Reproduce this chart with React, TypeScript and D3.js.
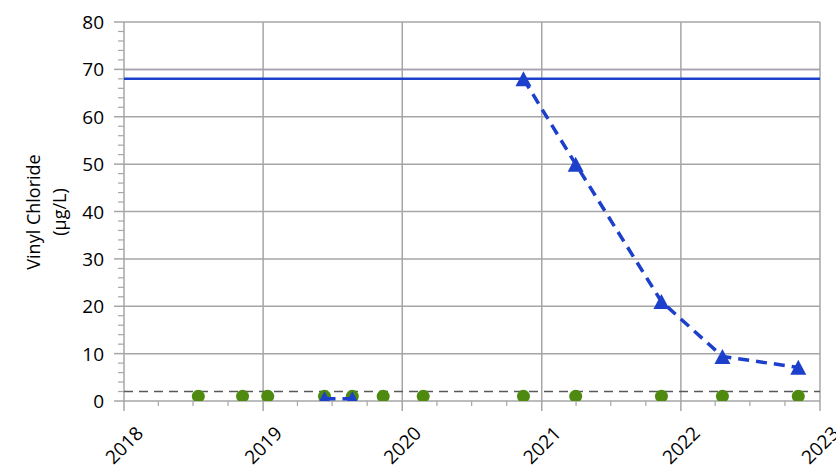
import React from "react";
import * as d3 from "d3";

const W = 836;
const H = 469;

// Data
const yTicks = [0, 10, 20, 30, 40, 50, 60, 70, 80];
const xYears = [2018, 2019, 2020, 2021, 2022, 2023];

const ndDates = [
  "2018-07-15", "2018-11-08", "2019-01-13", "2019-06-11", "2019-08-23", "2019-11-12",
  "2020-02-25", "2020-11-14", "2021-03-31", "2021-11-11", "2022-04-20", "2022-11-05",
];
const ndValues = [1, 1, 1, 1, 1, 1, 1, 1, 1, 1, 1, 1];

const vcDates = [
  "2019-06-11", "2019-08-23", "2019-11-12", "2020-02-25",
  "2020-11-14", "2021-03-31", "2021-11-11", "2022-04-20", "2022-11-05",
];
const vcValues: (number | null)[] = [0.5, 0.5, null, null, 68, 50, 21, 9.4, 7.1];

const mclValue = 68;
const refValue70 = 70;
const rlValue = 2;

export default function App() {
  const margin = { left: 124, right: 16, top: 22, bottom: 68 };
  const x = d3
    .scaleTime()
    .domain([new Date(2018, 0, 1), new Date(2023, 0, 1)])
    .range([margin.left, W - margin.right]);
  const y = d3.scaleLinear().domain([0, 80]).range([H - margin.bottom, margin.top]);

  const x0 = margin.left, x1 = W - margin.right;
  const y0 = y(0), y1 = y(80);

  const minorY = d3.range(0, 81, 2).filter((v) => v % 10 !== 0);
  const quarters = d3.timeMonth.every(3)!.range(new Date(2018, 0, 1), new Date(2023, 0, 2));
  const minorX = quarters.filter((d) => d.getMonth() !== 0);

  const vc = vcDates.map((d, i) => ({ date: new Date(d), value: vcValues[i] }));
  const nd = ndDates.map((d, i) => ({ date: new Date(d), value: ndValues[i] }));

  const line = d3
    .line<{ date: Date; value: number | null }>()
    .defined((d) => d.value != null)
    .x((d) => x(d.date))
    .y((d) => y(d.value as number));

  const grid = "#a6a6a6";
  const blue = "#1c3fcc";
  const green = "#4e8a10";
  const font = "'Open Sans', 'Liberation Sans', sans-serif";

  const tri = (cx: number, cy: number) => {
    const w = 16, h = 15;
    return `M${cx},${cy - h / 2}L${cx + w / 2},${cy + h / 2}L${cx - w / 2},${cy + h / 2}Z`;
  };

  return (
    <svg
      width={W}
      height={H}
      style={{ position: "absolute", left: 0, top: 0, background: "#fff" }}
      fontFamily={font}
    >
      <defs>
        <clipPath id="plot">
          <rect x={x0} y={y1} width={x1 - x0} height={y0 - y1} />
        </clipPath>
      </defs>
      {/* horizontal gridlines */}
      {yTicks.map((t) => (
        <line key={"gy" + t} x1={x0} x2={x1} y1={y(t)} y2={y(t)} stroke={grid} strokeWidth={1.5} />
      ))}
      {/* vertical gridlines */}
      {xYears.map((yr) => {
        const xx = x(new Date(yr, 0, 1));
        return <line key={"gx" + yr} x1={xx} x2={xx} y1={y1} y2={y0} stroke={grid} strokeWidth={1.5} />;
      })}
      {/* y axis minor ticks */}
      {minorY.map((t) => (
        <line key={"my" + t} x1={x0 - 6} x2={x0} y1={y(t)} y2={y(t)} stroke={grid} strokeWidth={1.2} />
      ))}
      {yTicks.map((t) => (
        <line key={"ty" + t} x1={x0 - 10} x2={x0} y1={y(t)} y2={y(t)} stroke={grid} strokeWidth={1.5} />
      ))}
      {/* x axis ticks */}
      {minorX.map((d, i) => (
        <line key={"mx" + i} x1={x(d)} x2={x(d)} y1={y0} y2={y0 + 5} stroke={grid} strokeWidth={1.2} />
      ))}
      {xYears.map((yr) => {
        const xx = x(new Date(yr, 0, 1));
        return <line key={"tx" + yr} x1={xx} x2={xx} y1={y0} y2={y0 + 10} stroke={grid} strokeWidth={1.5} />;
      })}
      {/* reference lines */}
      <line x1={x0} x2={x1} y1={y(refValue70)} y2={y(refValue70)} stroke="#ad9fb2" strokeWidth={1.5} />
      <line x1={x0} x2={x1} y1={y(mclValue)} y2={y(mclValue)} stroke={blue} strokeWidth={2.5} />
      <line
        x1={x0}
        x2={x1}
        y1={y(rlValue)}
        y2={y(rlValue)}
        stroke="#595959"
        strokeWidth={1.5}
        strokeDasharray="9 6"
      />
      <g clipPath="url(#plot)">
        {nd.map((d, i) => (
          <circle key={"nd" + i} cx={x(d.date)} cy={y(d.value)} r={6.5} fill={green} />
        ))}
        <path d={line(vc) || ""} fill="none" stroke={blue} strokeWidth={3.5} strokeDasharray="11 7" />
        {vc
          .filter((d) => d.value != null)
          .map((d, i) => (
            <path key={"vc" + i} d={tri(x(d.date), y(d.value as number))} fill={blue} />
          ))}
      </g>
      {/* y tick labels */}
      {yTicks.map((t) => (
        <text
          key={"ly" + t}
          x={104}
          y={y(t)}
          textAnchor="end"
          dominantBaseline="central"
          fontSize={19}
          fill="#000"
        >
          {t}
        </text>
      ))}
      {/* x tick labels */}
      {xYears.map((yr) => {
        const xx = x(new Date(yr, 0, 1));
        return (
          <text
            key={"lx" + yr}
            transform={`translate(${xx},${445}) rotate(-45)`}
            textAnchor="middle"
            dominantBaseline="central"
            fontSize={19}
            fill="#000"
          >
            {yr}
          </text>
        );
      })}
      {/* y axis title */}
      <text transform={`translate(40,212) rotate(-90)`} textAnchor="middle" fontSize={18} fill="#000">
        Vinyl Chloride
      </text>
      <text transform={`translate(66,212) rotate(-90)`} textAnchor="middle" fontSize={18} fill="#000">
        (µg/L)
      </text>
    </svg>
  );
}
